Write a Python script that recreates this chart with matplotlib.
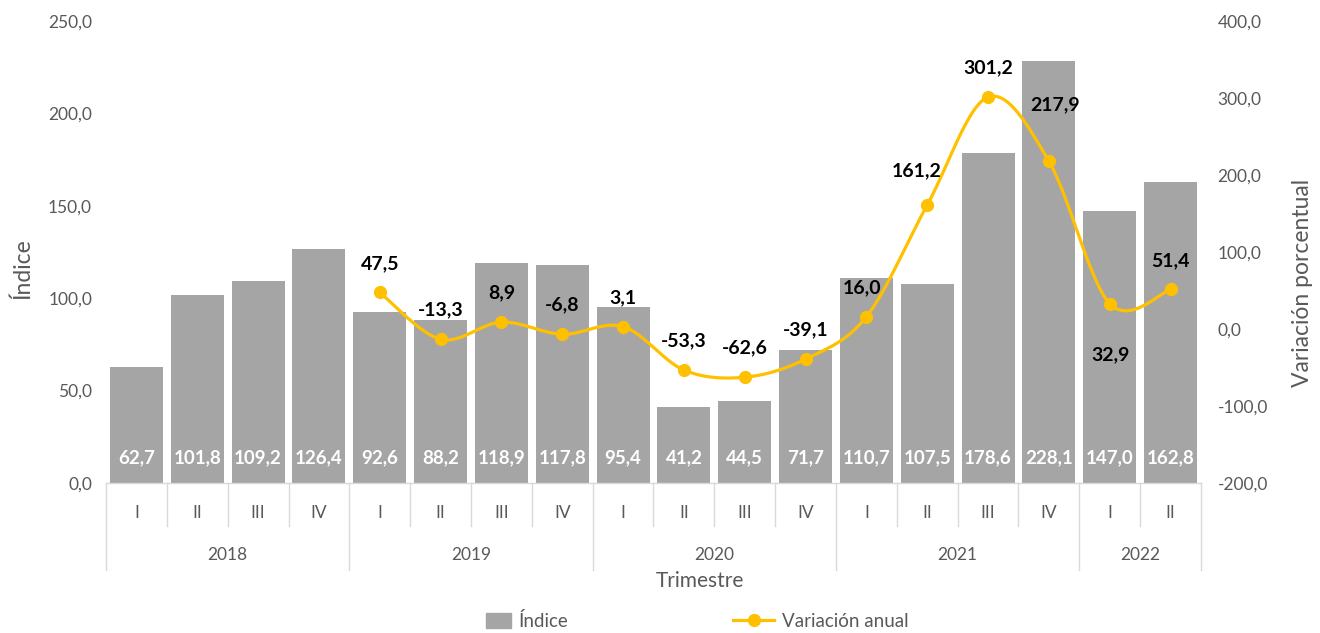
import matplotlib
matplotlib.use("Agg")
import matplotlib.pyplot as plt
import matplotlib.transforms as mtransforms
from matplotlib.lines import Line2D
from matplotlib.patches import Patch, Rectangle
from matplotlib.legend_handler import HandlerPatch
import numpy as np

plt.rcParams["font.family"] = ["Lato", "DejaVu Sans"]

years = ["2018", "2019", "2020", "2021", "2022"]
quarters_per_year = [4, 4, 4, 4, 2]
quarters = ["I", "II", "III", "IV"] * 4 + ["I", "II"]

indice = [62.7, 101.8, 109.2, 126.4, 92.6, 88.2, 118.9, 117.8, 95.4,
          41.2, 44.5, 71.7, 110.7, 107.5, 178.6, 228.1, 147.0, 162.8]

# annual variation starts with 2019 I
variacion = [47.5, -13.3, 8.9, -6.8, 3.1, -53.3, -62.6, -39.1,
             16.0, 161.2, 301.2, 217.9, 32.9, 51.4]
var_start = 4

BAR_COLOR = "#A5A5A5"
LINE_COLOR = "#FFC000"
TEXT_GRAY = "#595959"
SEP_COLOR = "#D9D9D9"

# label offsets in pixels (dx, dy) where the default would collide
label_shift = {8: (-4, 29), 9: (-11, 34), 11: (6, 56), 12: (1, -51)}


def fmt(v):
    return f"{v:.1f}".replace(".", ",")


def smooth(xs, ys, n=30):
    # Catmull-Rom style bezier, similar to spreadsheet smoothed lines
    xs = np.asarray(xs, float)
    ys = np.asarray(ys, float)
    px = np.concatenate([[xs[0]], xs, [xs[-1]]])
    py = np.concatenate([[ys[0]], ys, [ys[-1]]])
    out_x, out_y = [], []
    for i in range(1, len(px) - 2):
        p0 = np.array([px[i], py[i]])
        p3 = np.array([px[i + 1], py[i + 1]])
        c1 = p0 + (p3 - np.array([px[i - 1], py[i - 1]])) / 6
        c2 = p3 - (np.array([px[i + 2], py[i + 2]]) - p0) / 6
        t = np.linspace(0, 1, n)[:, None]
        seg = ((1 - t) ** 3) * p0 + 3 * ((1 - t) ** 2) * t * c1 \
            + 3 * (1 - t) * t ** 2 * c2 + t ** 3 * p3
        out_x.extend(seg[:, 0])
        out_y.extend(seg[:, 1])
    return out_x, out_y


def small_square(legend, orig_handle, xdescent, ydescent, width, height,
                 fontsize):
    w = width * 0.6
    return Rectangle((width - w - xdescent, -ydescent), w, height)


fig = plt.figure(figsize=(13.2, 6.33), dpi=100)
ax = fig.add_axes([106 / 1320, 1 - 483 / 633, 1095 / 1320, 462 / 633])
ax2 = ax.twinx()

x = np.arange(len(indice))
ax.bar(x, indice, width=0.87, color=BAR_COLOR, zorder=1)
ax.set_xlim(-0.5, len(indice) - 0.5)
ax.set_ylim(0, 250)
ax.set_yticks(np.arange(0, 251, 50))
ax.set_yticklabels([fmt(v) for v in np.arange(0, 251, 50)])
ax.set_xticks([])

for xi, v in zip(x, indice):
    ax.annotate(fmt(v), (xi, 0), xytext=(0, 18), textcoords="offset points",
                ha="center", va="center", color="white", fontsize=13.5,
                fontweight="bold")

xv = x[var_start:]
sx, sy = smooth(xv, variacion)
ax2.plot(sx, sy, color=LINE_COLOR, lw=2.3, zorder=3)
ax2.plot(xv, variacion, "o", color=LINE_COLOR, ms=8.5, zorder=4)
ax2.set_ylim(-200, 400)
ax2.set_yticks(np.arange(-200, 401, 100))
ax2.set_yticklabels([fmt(v) for v in np.arange(-200, 401, 100)])

for i, (xi, v) in enumerate(zip(xv, variacion)):
    dx, dy = label_shift.get(i, (0, 29))
    ax2.annotate(fmt(v), (xi, v), xytext=(dx * 0.72, dy * 0.72),
                 textcoords="offset points", ha="center", va="center",
                 color="black", fontsize=14, fontweight="bold", zorder=5)

for a in (ax, ax2):
    for s in a.spines.values():
        s.set_visible(False)
    a.tick_params(axis="y", length=0, colors=TEXT_GRAY, labelsize=12.5)
ax.tick_params(axis="y", pad=10)
ax2.tick_params(axis="y", pad=12)

ax.set_ylabel("Índice", color=TEXT_GRAY, fontsize=16.5)
ax.yaxis.set_label_coords(-0.066, 0.463)
ax2.set_ylabel("Variación porcentual", color=TEXT_GRAY, fontsize=16.5)
ax2.yaxis.set_label_coords(1.083, 0.433)

# category axis with two levels
trans = mtransforms.blended_transform_factory(ax.transData, ax.transAxes)
ax.plot([-0.5, len(indice) - 0.5], [0, 0], color=SEP_COLOR, lw=1,
        transform=trans, clip_on=False)
year_edges = np.concatenate([[0], np.cumsum(quarters_per_year)]) - 0.5
for b in np.arange(len(indice) + 1) - 0.5:
    low = -0.188 if b in year_edges else -0.093
    ax.plot([b, b], [0, low], color=SEP_COLOR, lw=1, transform=trans,
            clip_on=False)
for xi, q in zip(x, quarters):
    ax.text(xi, -0.065, q, transform=trans, ha="center", va="center",
            color=TEXT_GRAY, fontsize=12.5)
for k, yr in enumerate(years):
    mid = (year_edges[k] + year_edges[k + 1]) / 2
    ax.text(mid, -0.156, yr, transform=trans, ha="center", va="center",
            color=TEXT_GRAY, fontsize=12.5)
ax.text(0.542, -0.212, "Trimestre", transform=ax.transAxes, ha="center",
        va="center", color=TEXT_GRAY, fontsize=15)

handles = [
    Patch(color=BAR_COLOR, label="Índice"),
    Line2D([0], [0], color=LINE_COLOR, lw=2.3, marker="o", ms=8.5,
           label="Variación anual"),
]
fig.legend(handles=handles, loc="center", bbox_to_anchor=(0.522, 1 - 621 / 633),
           ncol=2, frameon=False, fontsize=13.5, labelcolor=TEXT_GRAY,
           columnspacing=8.8, handlelength=2.2, handleheight=0.9,
           handletextpad=0.4,
           handler_map={Patch: HandlerPatch(patch_func=small_square)})

fig.savefig("out.png", dpi=100)
